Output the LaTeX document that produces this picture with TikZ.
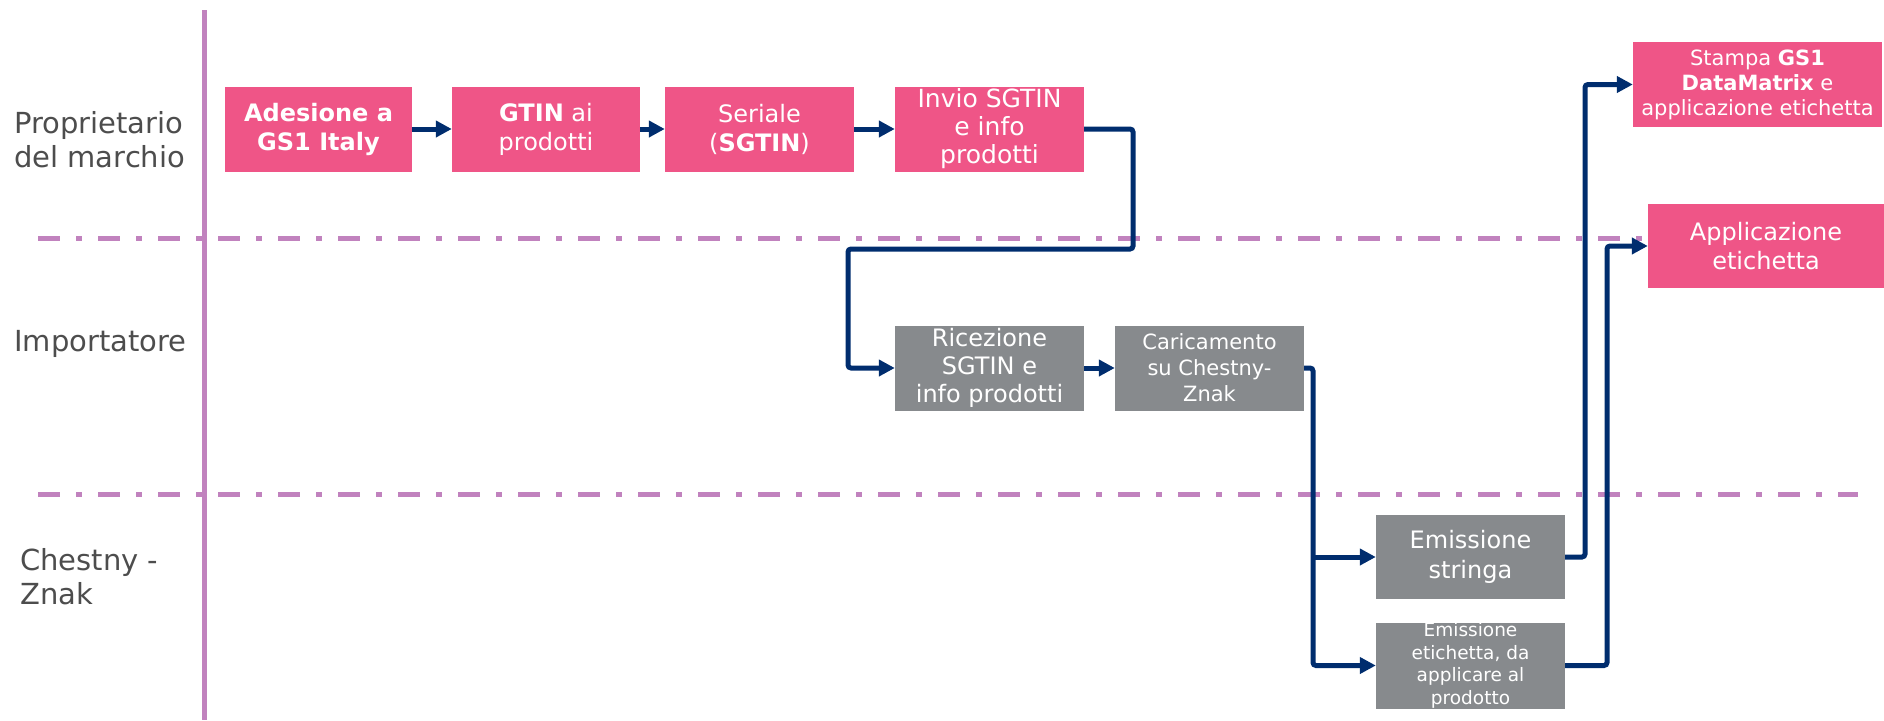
\documentclass[tikz,border=0pt]{standalone}
\usepackage{fontspec}
\setmainfont{DejaVu Sans}
\usetikzlibrary{arrows.meta}
\definecolor{gspink}{HTML}{EF5587}
\definecolor{gsgray}{HTML}{878A8D}
\definecolor{gsnavy}{HTML}{002D6E}
\definecolor{gslav}{HTML}{C182BE}
\definecolor{gslabel}{HTML}{4D4D4D}
\tikzset{
  pinkbox/.style={fill=gspink, text=white, inner sep=0pt, align=center, rectangle},
  graybox/.style={fill=gsgray, text=white, inner sep=0pt, align=center, rectangle},
  lanelabel/.style={text=gslabel, inner sep=0pt, align=left, anchor=west, font=\fontsize{29}{34}\selectfont},
  conn/.style={draw=gsnavy, line width=5pt, rounded corners=3pt, -{Triangle[length=16pt,width=16pt]}},
  lanesep/.style={draw=gslav, line width=5pt, dash pattern=on 22pt off 16pt on 6pt off 16pt},
}
\begin{document}
\begin{tikzpicture}[x=1pt,y=-1pt]
\useasboundingbox (0,0) rectangle (1884,720);
% lanes
\draw[gslav, line width=5pt] (204,10) -- (204,720);
\draw[lanesep] (38,238) -- (1645,238);
\draw[lanesep] (38,494) -- (1858,494);
% lane labels
\node[lanelabel] (l1) at (14,140) {Proprietario\\del marchio};
\node[lanelabel] (l2) at (14,344) {Importatore};
\node[lanelabel] (l3) at (20,577) {Chestny -\\Znak};
% boxes
\node[pinkbox, minimum width=187pt, minimum height=85pt, font=\fontsize{24}{29}\selectfont] (b1) at (318.5,129) {\textbf{Adesione a}\\\textbf{GS1 Italy}};
\node[pinkbox, minimum width=188pt, minimum height=85pt, font=\fontsize{24}{29}\selectfont] (b2) at (546,129) {\textbf{GTIN} ai\\prodotti};
\node[pinkbox, minimum width=189pt, minimum height=85pt, font=\fontsize{24}{29}\selectfont] (b3) at (759.5,129) {Seriale\\(\textbf{SGTIN})};
\node[pinkbox, minimum width=189pt, minimum height=85pt, font=\fontsize{25}{28}\selectfont] (b4) at (989.5,129) {Invio SGTIN\\e info\\prodotti};
\node[graybox, minimum width=189pt, minimum height=85pt, font=\fontsize{24}{28}\selectfont] (b5) at (989.5,368) {Ricezione\\SGTIN e\\info prodotti};
\node[graybox, minimum width=189pt, minimum height=85pt, font=\fontsize{21}{26}\selectfont] (b6) at (1209.5,368) {Caricamento\\su Chestny-\\Znak};
\node[graybox, minimum width=189pt, minimum height=84pt, font=\fontsize{24}{30}\selectfont] (b7) at (1470.5,557) {Emissione\\stringa};
\node[graybox, minimum width=189pt, minimum height=85pt, font=\fontsize{18.5}{22.7}\selectfont] (b8) at (1470.5,665.5) {Emissione\\etichetta, da\\applicare al\\prodotto};
\node[pinkbox, minimum width=249pt, minimum height=85pt, font=\fontsize{21}{25}\selectfont] (b9) at (1757.5,84.5) {Stampa \textbf{GS1}\\\textbf{DataMatrix} e\\applicazione etichetta};
\node[pinkbox, minimum width=236pt, minimum height=84pt, font=\fontsize{24}{29}\selectfont] (b10) at (1766,246) {Applicazione\\etichetta};
% connector bend points
\coordinate (k1) at (1133,249);
\coordinate (k2) at (848,368);
\coordinate (k3) at (1313,665.5);
\coordinate (k4) at (1313,557);
\coordinate (k5) at (1585,84.5);
\coordinate (k6) at (1607,246);
% connectors
\draw[conn] (b1.east) -- (b2.west);
\draw[conn] (b2.east) -- (b3.west);
\draw[conn] (b3.east) -- (b4.west);
\draw[conn] (b4.east) -| (k1) -| (k2) -- (b5.west);
\draw[conn] (b5.east) -- (b6.west);
\draw[conn] (b6.east) -| (k3) -- (b8.west);
\draw[conn] (k4) -- (b7.west);
\draw[conn] (b7.east) -| (k5) -- (b9.west);
\draw[conn] (b8.east) -| (k6) -- (b10.west);
\end{tikzpicture}
\end{document}
